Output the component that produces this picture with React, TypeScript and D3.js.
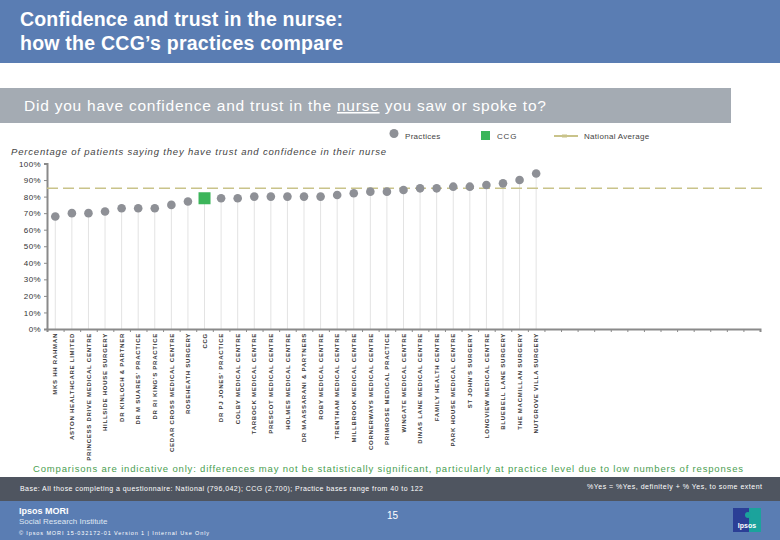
import * as d3 from 'd3';
import React, { useEffect, useRef } from 'react';

const practices = [
	'MKS HH RAHMAN',
	'ASTON HEALTHCARE LIMITED',
	'PRINCESS DRIVE MEDICAL CENTRE',
	'HILLSIDE HOUSE SURGERY',
	'DR KINLOCH & PARTNER',
	"DR M SUARES' PRACTICE",
	"DR RI KING'S PRACTICE",
	'CEDAR CROSS MEDICAL CENTRE',
	'ROSEHEATH SURGERY',
	'CCG',
	"DR PJ JONES' PRACTICE",
	'COLBY MEDICAL CENTRE',
	'TARBOCK MEDICAL CENTRE',
	'PRESCOT MEDICAL CENTRE',
	'HOLMES MEDICAL CENTRE',
	'DR MAASSARANI & PARTNERS',
	'ROBY MEDICAL CENTRE',
	'TRENTHAM MEDICAL CENTRE',
	'MILLBROOK MEDICAL CENTRE',
	'CORNERWAYS MEDICAL CENTRE',
	'PRIMROSE MEDICAL PRACTICE',
	'WINGATE MEDICAL CENTRE',
	'DINAS LANE MEDICAL CENTRE',
	'FAMILY HEALTH CENTRE',
	'PARK HOUSE MEDICAL CENTRE',
	"ST JOHN'S SURGERY",
	'LONGVIEW MEDICAL CENTRE',
	'BLUEBELL LANE SURGERY',
	'THE MACMILLAN SURGERY',
	'NUTGROVE VILLA SURGERY',
];

const trustValues = [68, 70, 70, 71, 73, 73, 73, 75, 77, 79, 79, 79, 80, 80, 80, 80, 80, 81, 82, 83, 83, 84, 85, 85, 86, 86, 87, 88, 90, 94];

const nationalAverage = 85;
const yTicks = [0, 10, 20, 30, 40, 50, 60, 70, 80, 90, 100];
const totalSlots = 43;

const FONT = '"Liberation Sans", Arial, sans-serif';

const TrustChart = (): React.JSX.Element => {
	const ref = useRef<SVGSVGElement | null>(null);

	useEffect(() => {
		if (ref.current === null) return;
		const svg = d3.select(ref.current);
		svg.selectAll('*').remove();

		const width = 780;
		const height = 540;
		svg.attr('width', width).attr('height', height).style('font-family', FONT);

		// header
		svg.append('rect').attr('x', 0).attr('y', 0).attr('width', width).attr('height', 63).attr('fill', '#5a7db3');
		svg.append('text').attr('x', 20).attr('y', 26).attr('fill', '#fff').attr('font-size', 19.5).attr('font-weight', 'bold')
			.attr('textLength', 323).attr('lengthAdjust', 'spacing')
			.text('Confidence and trust in the nurse:');
		svg.append('text').attr('x', 20).attr('y', 50).attr('fill', '#fff').attr('font-size', 19.5).attr('font-weight', 'bold')
			.attr('textLength', 323).attr('lengthAdjust', 'spacing')
			.text('how the CCG’s practices compare');

		// question band
		svg.append('rect').attr('x', 0).attr('y', 88).attr('width', 731).attr('height', 35).attr('fill', '#a4abb3');
		const q = svg.append('text').attr('x', 24).attr('y', 111).attr('fill', '#fff').attr('font-size', 15.5)
			.attr('letter-spacing', 0.78);
		q.append('tspan').text('Did you have confidence and trust in the ');
		q.append('tspan').attr('text-decoration', 'underline').text('nurse');
		q.append('tspan').text(' you saw or spoke to?');

		// legend
		const legend = svg.append('g').attr('font-size', 8).attr('fill', '#444');
		legend.append('circle').attr('cx', 394).attr('cy', 133.5).attr('r', 4.5).attr('fill', '#8e9096');
		legend.append('text').attr('x', 405).attr('y', 139).attr('letter-spacing', 0.3).text('Practices');
		legend.append('rect').attr('x', 481).attr('y', 131).attr('width', 9).attr('height', 9).attr('fill', '#3cb55a');
		legend.append('text').attr('x', 497).attr('y', 139).attr('letter-spacing', 0.8).text('CCG');
		legend.append('line').attr('x1', 554).attr('x2', 578).attr('y1', 136).attr('y2', 136)
			.attr('stroke', '#c9c38a').attr('stroke-width', 2);
		legend.append('rect').attr('x', 562).attr('y', 134.5).attr('width', 5).attr('height', 3).attr('fill', '#c9c38a');
		legend.append('text').attr('x', 584).attr('y', 139).attr('letter-spacing', 0.3).text('National Average');

		svg.append('text').attr('x', 11).attr('y', 155).attr('font-size', 9.5).attr('font-style', 'italic').attr('fill', '#444')
			.attr('textLength', 375).attr('lengthAdjust', 'spacing')
			.text('Percentage of patients saying they have trust and confidence in their nurse');

		// scales
		const x0 = 47;
		const x1 = 760;
		const step = (x1 - x0) / totalSlots;
		const xScale = d3.scaleBand<string>()
			.domain(practices)
			.range([x0, x0 + step * practices.length]);
		const yScale = d3.scaleLinear().domain([0, 100]).range([329, 163.5]);
		const cx = (name: string) => (xScale(name) ?? 0) + xScale.bandwidth() / 2;

		// drop lines
		svg.append('g').selectAll('line').data(practices).enter().append('line')
			.attr('x1', (d) => cx(d)).attr('x2', (d) => cx(d))
			.attr('y1', (_, i) => yScale(trustValues[i])).attr('y2', yScale(0))
			.attr('stroke', '#e3e3e3').attr('stroke-width', 1);

		// y axis
		const yAxis = svg.append('g').attr('transform', `translate(${x0},0)`)
			.call(d3.axisLeft(yScale).tickValues(yTicks).tickSize(3).tickFormat((d) => `${d}%`));
		yAxis.select('.domain').attr('stroke', '#8a8a8a').attr('stroke-width', 2);
		yAxis.selectAll('.tick line').attr('stroke', '#8a8a8a');
		yAxis.selectAll('.tick text').attr('font-size', 8).attr('fill', '#333').attr('letter-spacing', 0.4)
			.attr('font-family', FONT).attr('x', -6);

		// x axis
		const slotScale = d3.scaleLinear().domain([0, totalSlots]).range([x0, x1]);
		const xAxis = svg.append('g').attr('transform', `translate(0,${yScale(0)})`)
			.call(d3.axisBottom(slotScale).tickValues(d3.range(1, totalSlots + 1)).tickSize(3).tickFormat(() => ''));
		xAxis.select('.domain').attr('stroke', '#8a8a8a').attr('stroke-width', 2);
		xAxis.selectAll('.tick line').attr('stroke', '#8a8a8a');

		svg.append('g').selectAll('text').data(practices).enter().append('text')
			.attr('transform', (d) => `translate(${cx(d) + 2.2},${yScale(0) + 4}) rotate(-90)`)
			.attr('text-anchor', 'end')
			.attr('font-size', 6)
			.attr('font-weight', 'bold')
			.attr('letter-spacing', 0.75)
			.attr('fill', '#3a3a3a')
			.text((d) => d);

		// national average
		svg.append('line').attr('x1', x0).attr('x2', 762)
			.attr('y1', yScale(nationalAverage)).attr('y2', yScale(nationalAverage))
			.attr('stroke', '#c9c38a').attr('stroke-width', 1.5).attr('stroke-dasharray', '11,5');

		// points
		svg.append('g').selectAll('circle').data(practices.filter((p) => p !== 'CCG')).enter().append('circle')
			.attr('cx', (d) => cx(d))
			.attr('cy', (d) => yScale(trustValues[practices.indexOf(d)]))
			.attr('r', 4.3)
			.attr('fill', '#8e9096');
		const ccgValue = trustValues[practices.indexOf('CCG')];
		svg.append('rect')
			.attr('x', cx('CCG') - 6).attr('y', yScale(ccgValue) - 6)
			.attr('width', 12).attr('height', 12).attr('fill', '#3cb55a');

		// notes
		svg.append('text').attr('x', 33).attr('y', 472).attr('font-size', 9.5).attr('fill', '#4a9e50')
			.attr('textLength', 710).attr('lengthAdjust', 'spacing')
			.text('Comparisons are indicative only: differences may not be statistically significant, particularly at practice level due to low numbers of responses');

		svg.append('rect').attr('x', 0).attr('y', 477).attr('width', width).attr('height', 24).attr('fill', '#4f5560');
		svg.append('text').attr('x', 20).attr('y', 491).attr('font-size', 7).attr('fill', '#fff')
			.attr('textLength', 403).attr('lengthAdjust', 'spacing')
			.text('Base: All those completing a questionnaire: National (796,042); CCG (2,700); Practice bases range from 40 to 122');
		svg.append('text').attr('x', 587).attr('y', 489).attr('font-size', 7).attr('fill', '#fff')
			.attr('textLength', 175).attr('lengthAdjust', 'spacing')
			.text('%Yes = %Yes, definitely + % Yes, to some extent');

		// footer
		svg.append('rect').attr('x', 0).attr('y', 501).attr('width', width).attr('height', 39).attr('fill', '#5a7db3');
		svg.append('text').attr('x', 19).attr('y', 514).attr('font-size', 9).attr('font-weight', 'bold').attr('fill', '#fff')
			.text('Ipsos MORI');
		svg.append('text').attr('x', 19).attr('y', 524).attr('font-size', 8).attr('fill', '#dfe6f2')
			.text('Social Research Institute');
		svg.append('text').attr('x', 19).attr('y', 535).attr('font-size', 5.5).attr('fill', '#fff')
			.attr('textLength', 190).attr('lengthAdjust', 'spacing')
			.text('© Ipsos MORI    15-032172-01 Version 1 | Internal Use Only');
		svg.append('text').attr('x', 387).attr('y', 519).attr('font-size', 10).attr('fill', '#fff').text('15');

		const logo = svg.append('g').attr('transform', 'translate(733,508)');
		logo.append('rect').attr('width', 28).attr('height', 24).attr('fill', '#1ba39c');
		logo.append('rect').attr('width', 16).attr('height', 24).attr('fill', '#2b3f96');
		logo.append('circle').attr('cx', 15).attr('cy', 7).attr('r', 3).attr('fill', '#1ba39c');
		logo.append('text').attr('x', 14).attr('y', 20).attr('text-anchor', 'middle').attr('font-size', 7)
			.attr('font-weight', 'bold').attr('fill', '#fff').text('Ipsos');
	}, []);

	return <svg ref={ref} style={{ display: 'block' }} />;
};

export default function App(): React.JSX.Element {
	return (
		<div style={{ position: 'absolute', left: 0, top: 0, width: 780, height: 540, background: '#fff' }}>
			<TrustChart />
		</div>
	);
}
